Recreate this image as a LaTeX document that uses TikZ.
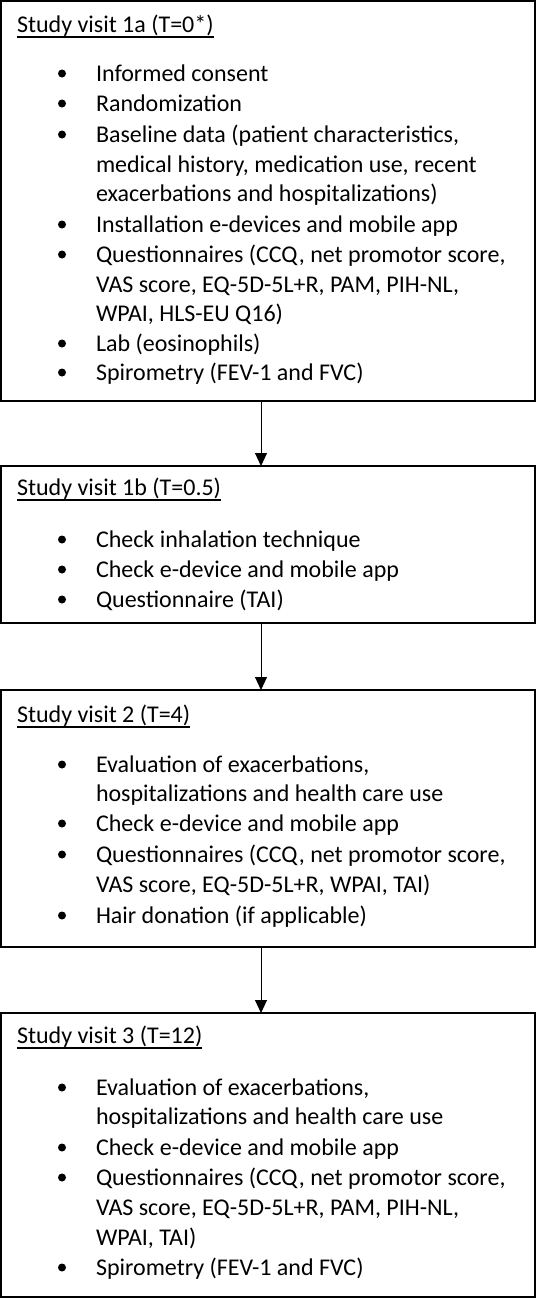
\documentclass[tikz,border=0pt]{standalone}
\usepackage{fontspec}
\setmainfont{Carlito}
\usetikzlibrary{arrows.meta}
\tikzset{
  box/.style={draw=black, line width=1.4pt, inner sep=0pt, outer sep=0pt},
  ttl/.style={anchor=base west, inner sep=0pt, outer sep=0pt, font=\fontsize{24}{30}\selectfont},
  txt/.style={anchor=base west, inner sep=0pt, outer sep=0pt, font=\fontsize{24}{30}\selectfont},
  bul/.style={circle, fill=black, inner sep=0pt, minimum size=8pt},
  uline/.style={line width=1.1pt},
  arr/.style={line width=1pt, -{Triangle[width=12pt,length=13pt]}}
}
\newcommand\itm[3]{\node[bul] (#1b) at (62,#2-7.5) {};\node[txt] (#1) at (96,#2) {#3};}
\newcommand\cnt[3]{\node[txt] (#1) at (96,#2) {#3};}
\newcommand\ttlu[3]{\node[ttl] (#1) at (17,#2) {#3};
  \draw[uline] ([yshift=-5pt]#1.base west) -- ([yshift=-5pt]#1.base east);}
\begin{document}
\begin{tikzpicture}[x=1pt,y=-1pt]
\useasboundingbox (0,0) rectangle (537,1299);
% boxes
\node[box, minimum width=534pt, minimum height=400pt] (b1) at (268,201) {};
\node[box, minimum width=534pt, minimum height=157pt] (b2) at (268,544.5) {};
\node[box, minimum width=534pt, minimum height=257pt] (b3) at (268,818.5) {};
\node[box, minimum width=534pt, minimum height=284pt] (b4) at (268,1155) {};
\coordinate (ax) at (261,0);
\draw[arr] (b1.south -| ax) -- (b2.north -| ax);
\draw[arr] (b2.south -| ax) -- (b3.north -| ax);
\draw[arr] (b3.south -| ax) -- (b4.north -| ax);
% box 1
\ttlu{t1}{32}{Study visit 1a (T=0*)}
\itm{a1}{81}{Informed consent}
\itm{a2}{111}{Randomization}
\itm{a3}{142}{Baseline data (patient characteristics,}
\cnt{a3b}{172}{medical history, medication use, recent}
\cnt{a3c}{201}{exacerbations and hospitalizations)}
\itm{a4}{232}{Installation e-devices and mobile app}
\itm{a5}{262}{Questionnaires (CCQ, net promotor score,}
\cnt{a5b}{292}{VAS score, EQ-5D-5L+R, PAM, PIH-NL,}
\cnt{a5c}{321}{WPAI, HLS-EU Q16)}
\itm{a6}{351}{Lab (eosinophils)}
\itm{a7}{380}{Spirometry (FEV-1 and FVC)}
% box 2
\ttlu{t2}{495}{Study visit 1b (T=0.5)}
\itm{c1}{547}{Check inhalation technique}
\itm{c2}{577}{Check e-device and mobile app}
\itm{c3}{607}{Questionnaire (TAI)}
% box 3
\ttlu{t3}{722}{Study visit 2 (T=4)}
\itm{d1}{772}{Evaluation of exacerbations,}
\cnt{d1b}{801}{hospitalizations and health care use}
\itm{d2}{831}{Check e-device and mobile app}
\itm{d3}{862}{Questionnaires (CCQ, net promotor score,}
\cnt{d3b}{892}{VAS score, EQ-5D-5L+R, WPAI, TAI)}
\itm{d4}{923}{Hair donation (if applicable)}
% box 4
\ttlu{t4}{1043}{Study visit 3 (T=12)}
\itm{e1}{1095}{Evaluation of exacerbations,}
\cnt{e1b}{1124}{hospitalizations and health care use}
\itm{e2}{1155}{Check e-device and mobile app}
\itm{e3}{1185}{Questionnaires (CCQ, net promotor score,}
\cnt{e3b}{1215}{VAS score, EQ-5D-5L+R, PAM, PIH-NL,}
\cnt{e3c}{1245}{WPAI, TAI)}
\itm{e4}{1275}{Spirometry (FEV-1 and FVC)}
\end{tikzpicture}
\end{document}
